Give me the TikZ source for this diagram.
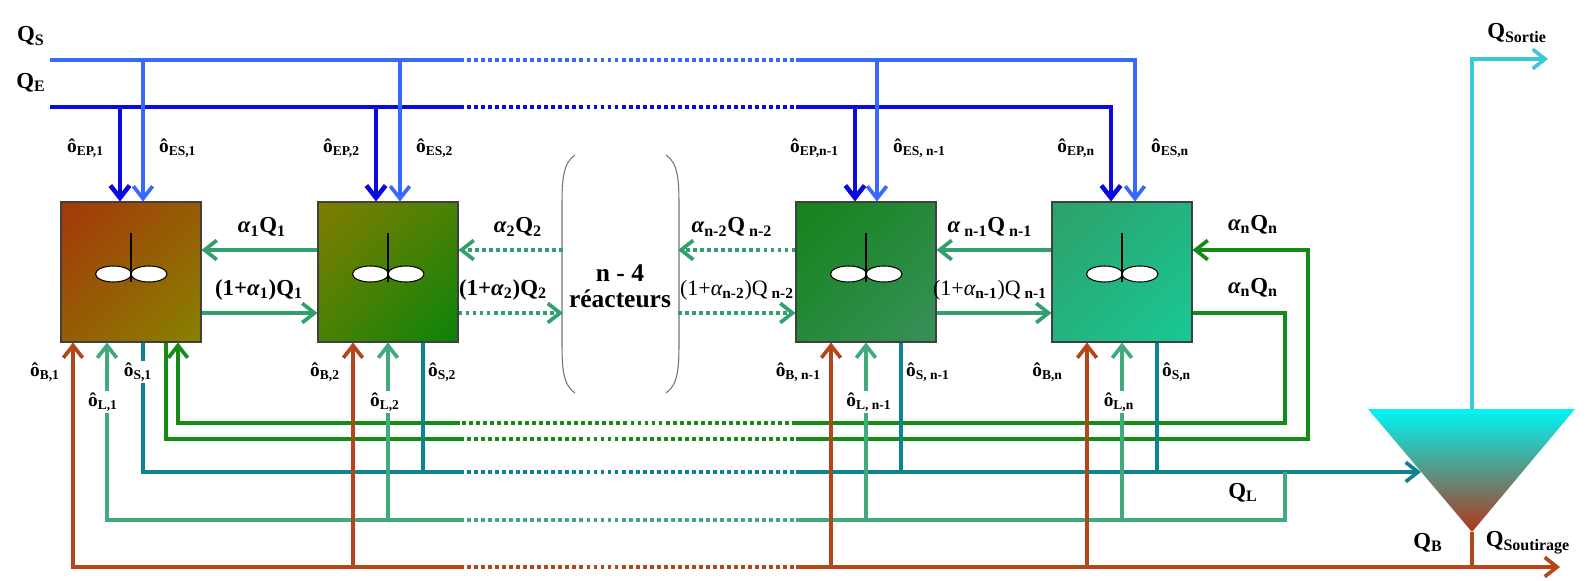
\documentclass[tikz,border=0pt]{standalone}
\usepackage{fontspec}
\setmainfont{Liberation Serif}
\usetikzlibrary{arrows.meta,positioning,calc,shadings}

\definecolor{qsblue}{RGB}{55,105,255}
\definecolor{qeblue}{RGB}{10,10,225}
\definecolor{recyc}{RGB}{50,160,110}
\definecolor{loopgreen}{RGB}{20,140,20}
\definecolor{steal}{RGB}{15,130,145}
\definecolor{lgreen}{RGB}{65,170,125}
\definecolor{bbrown}{RGB}{180,70,25}
\definecolor{sortie}{RGB}{60,200,215}
\definecolor{ra}{RGB}{165,55,10}
\definecolor{rb}{RGB}{135,130,0}
\definecolor{rc}{RGB}{10,130,10}
\definecolor{rd}{RGB}{20,130,25}
\definecolor{re}{RGB}{55,145,90}
\definecolor{rf}{RGB}{45,160,105}
\definecolor{rg}{RGB}{25,200,150}
\definecolor{settop}{RGB}{0,245,245}
\definecolor{setmid}{RGB}{95,195,200}
\definecolor{setbot}{RGB}{175,55,25}

\tikzset{
  flow/.style={line width=2.1pt},
  tip/.style={-{Straight Barb[length=7pt,width=11pt]}},
  dotline/.style={dash pattern=on 2.2pt off 1.8pt},
  reactor/.style={draw=black!75,line width=0.6pt,minimum width=2.8cm,minimum height=2.8cm,inner sep=0pt},
  lbl/.style={font=\bfseries\fontsize{13}{15}\selectfont,inner sep=0pt},
  thinlbl/.style={font=\fontsize{12.5}{15}\selectfont,inner sep=0pt},
  phi/.style={font=\bfseries\fontsize{11}{13}\selectfont,inner sep=1pt,fill=white},
  mixer/.pic={
    \draw[line width=0.6pt,fill=white] (-0.35cm,-0.04cm) ellipse (0.36cm and 0.16cm);
    \draw[line width=0.6pt,fill=white] (0.36cm,-0.04cm) ellipse (0.36cm and 0.16cm);
    \draw[line width=0.6pt] (0cm,0.78cm) -- (0cm,-0.2cm);
  }
}

\begin{document}
\begin{tikzpicture}[x=0.02cm,y=-0.02cm]
\useasboundingbox (0,0) rectangle (1586,581);

\node[reactor,upper left=ra,lower right=rb,upper right=ra!50!rb,lower left=ra!50!rb] (r1) at (131,272) {};
\node[reactor,upper left=rb!95!black,lower right=rc,upper right=rb!50!rc,lower left=rb!50!rc] (r2) at (388,272) {};
\node[reactor,upper left=rd,lower right=re,upper right=rd!50!re,lower left=rd!50!re] (r3) at (866,272) {};
\node[reactor,upper left=rf,lower right=rg,upper right=rf!50!rg,lower left=rf!50!rg] (r4) at (1122,272) {};
\pic at (r1) {mixer};
\pic at (r2) {mixer};
\pic at (r3) {mixer};
\pic at (r4) {mixer};

\coordinate (qsa) at (50,60);
\coordinate (qsb) at (460,60);
\coordinate (qsc) at (796,60);
\coordinate (qsd) at (1135,60);
\coordinate (qea) at (50,107);
\coordinate (qeb) at (460,107);
\coordinate (qec) at (796,107);
\coordinate (qed) at (1111,107);
\coordinate (es1) at (143,60);
\coordinate (es2) at (400,60);
\coordinate (es3) at (877,60);
\coordinate (ep1) at (120,107);
\coordinate (ep2) at (376,107);
\coordinate (ep3) at (855,107);

\draw[flow,qeblue,line width=2.6pt] (qea) -- (qeb);
\draw[flow,qeblue,line width=2.6pt,dotline] (qeb) -- (qec);
\draw[flow,qeblue,line width=2.6pt,tip] (qec) -- (qed) -- (qed |- r4.north);
\draw[flow,qeblue,line width=2.6pt,tip] (ep1) -- (ep1 |- r1.north);
\draw[flow,qeblue,line width=2.6pt,tip] (ep2) -- (ep2 |- r2.north);
\draw[flow,qeblue,line width=2.6pt,tip] (ep3) -- (ep3 |- r3.north);
\draw[flow,qsblue] (qsa) -- (qsb);
\draw[flow,qsblue,dotline] (qsb) -- (qsc);
\draw[flow,qsblue,tip] (qsc) -- (qsd) -- (qsd |- r4.north);
\draw[flow,qsblue,tip] (es1) -- (es1 |- r1.north);
\draw[flow,qsblue,tip] (es2) -- (es2 |- r2.north);
\draw[flow,qsblue,tip] (es3) -- (es3 |- r3.north);

\coordinate (pl) at (563,272);
\coordinate (pr) at (678,272);
\draw[line width=0.6pt,black!55] (575,155) .. controls (563,163) and (562,180) .. (562,205) -- (562,343) .. controls (562,368) and (563,385) .. (575,393);
\draw[line width=0.6pt,black!55] (666,155) .. controls (678,163) and (679,180) .. (679,205) -- (679,343) .. controls (679,368) and (678,385) .. (666,393);
\node[lbl,font=\bfseries\fontsize{14.5}{15}\selectfont,align=center] (nred) at (620,286) {n - 4\\réacteurs};

\draw[flow,recyc,tip] ($(r2.west)+(0,-22)$) -- ($(r1.east)+(0,-22)$);
\draw[flow,recyc,tip] ($(r1.east)+(0,41)$) -- ($(r2.west)+(0,41)$);
\draw[flow,recyc,dotline,tip] ($(pl)+(0,-22)$) -- ($(r2.east)+(0,-22)$);
\draw[flow,recyc,dotline,tip] ($(r2.east)+(0,41)$) -- ($(pl)+(0,41)$);
\draw[flow,recyc,dotline,tip] ($(r3.west)+(0,-22)$) -- ($(pr)+(0,-22)$);
\draw[flow,recyc,dotline,tip] ($(pr)+(0,41)$) -- ($(r3.west)+(0,41)$);
\draw[flow,recyc,tip] ($(r4.west)+(0,-22)$) -- ($(r3.east)+(0,-22)$);
\draw[flow,recyc,tip] ($(r3.east)+(0,41)$) -- ($(r4.west)+(0,41)$);

\coordinate (ga) at (166,439);
\coordinate (gb) at (460,439);
\coordinate (gc) at (796,439);
\coordinate (gd) at (1308,439);
\coordinate (ge) at (1308,250);
\coordinate (ha) at (178,423);
\coordinate (hb) at (460,423);
\coordinate (hc) at (796,423);
\coordinate (hd) at (1285,423);
\coordinate (he) at (1285,313);
\draw[flow,loopgreen] (ga |- r1.south) -- (ga) -- (gb);
\draw[flow,loopgreen,dotline] (gb) -- (gc);
\draw[flow,loopgreen,tip] (gc) -- (gd) -- (ge) -- (ge -| r4.east);
\draw[flow,loopgreen] (he -| r4.east) -- (he) -- (hd) -- (hc);
\draw[flow,loopgreen,dotline] (hc) -- (hb);
\draw[flow,loopgreen,tip] (hb) -- (ha) -- (ha |- r1.south);

\coordinate (setl) at (1368,409);
\coordinate (setr) at (1575,409);
\coordinate (setb) at (1472,532);
\coordinate (sa) at (1472,409);
\coordinate (sb) at (1472,59);
\coordinate (sc) at (1548,59);
\shade[top color=settop,middle color=setmid,bottom color=setbot] (setl) -- (setr) -- (setb) -- cycle;
\draw[flow,sortie,tip] (sa) -- (sb) -- (sc);

\coordinate (ta) at (143,472);
\coordinate (tb) at (460,472);
\coordinate (tc) at (796,472);
\coordinate (td) at (1421,472);
\coordinate (t2) at (423,472);
\coordinate (t3) at (901,472);
\coordinate (t4) at (1157,472);
\draw[flow,steal] (ta |- r1.south) -- (ta) -- (tb);
\draw[flow,steal,dotline] (tb) -- (tc);
\draw[flow,steal,tip] (tc) -- (td);
\draw[flow,steal] (t2 |- r2.south) -- (t2);
\draw[flow,steal] (t3 |- r3.south) -- (t3);
\draw[flow,steal] (t4 |- r4.south) -- (t4);

\coordinate (la) at (107,520);
\coordinate (lb) at (460,520);
\coordinate (lc) at (796,520);
\coordinate (ld) at (1285,520);
\coordinate (le) at (1285,472);
\coordinate (l2) at (388,520);
\coordinate (l3) at (866,520);
\coordinate (l4) at (1122,520);
\draw[flow,lgreen,tip] (lb) -- (la) -- (la |- r1.south);
\draw[flow,lgreen,dotline] (lb) -- (lc);
\draw[flow,lgreen] (lc) -- (ld) -- (le);
\draw[flow,lgreen,tip] (l2) -- (l2 |- r2.south);
\draw[flow,lgreen,tip] (l3) -- (l3 |- r3.south);
\draw[flow,lgreen,tip] (l4) -- (l4 |- r4.south);

\coordinate (ba) at (73,567);
\coordinate (bb) at (460,567);
\coordinate (bc) at (796,567);
\coordinate (bd) at (1472,567);
\coordinate (be) at (1560,567);
\coordinate (b2) at (353,567);
\coordinate (b3) at (831,567);
\coordinate (b4) at (1087,567);
\draw[flow,bbrown,tip] (bb) -- (ba) -- (ba |- r1.south);
\draw[flow,bbrown,dotline] (bb) -- (bc);
\draw[flow,bbrown,tip] (bc) -- (be);
\draw[flow,bbrown] (setb) -- (bd);
\draw[flow,bbrown,tip] (b2) -- (b2 |- r2.south);
\draw[flow,bbrown,tip] (b3) -- (b3 |- r3.south);
\draw[flow,bbrown,tip] (b4) -- (b4 |- r4.south);

\node[lbl] (qsl) at (31,36) {Q\textsubscript{S}};
\node[lbl] (qel) at (31,83) {Q\textsubscript{E}};
\node[lbl] (qsort) at (1517,33) {Q\textsubscript{Sortie}};
\node[lbl] (qll) at (1243,493) {Q\textsubscript{L}};
\node[lbl] (qbl) at (1428,543) {Q\textsubscript{B}};
\node[lbl] (qsout) at (1528,543) {Q\textsubscript{Soutirage}};

\node[phi,anchor=east] (lep1) at (106,148) {ô\textsubscript{EP,1}};
\node[phi,anchor=west] (les1) at (157,148) {ô\textsubscript{ES,1}};
\node[phi,anchor=east] (lep2) at (362,148) {ô\textsubscript{EP,2}};
\node[phi,anchor=west] (les2) at (414,148) {ô\textsubscript{ES,2}};
\node[phi,anchor=east] (lep3) at (841,148) {ô\textsubscript{EP,n-1}};
\node[phi,anchor=west] (les3) at (891,148) {ô\textsubscript{ES, n-1}};
\node[phi,anchor=east] (lep4) at (1097,148) {ô\textsubscript{EP,n}};
\node[phi,anchor=west] (les4) at (1149,148) {ô\textsubscript{ES,n}};

\node[phi,anchor=east] (lb1) at (62,372) {ô\textsubscript{B,1}};
\node[phi] (ls1) at (138,372) {ô\textsubscript{S,1}};
\node[phi] (ll1) at (103,402) {ô\textsubscript{L,1}};
\node[phi,anchor=east] (lb2) at (342,372) {ô\textsubscript{B,2}};
\node[phi] (ll2) at (385,402) {ô\textsubscript{L,2}};
\node[phi,anchor=west] (ls2) at (426,372) {ô\textsubscript{S,2}};
\node[phi,anchor=east] (lb3) at (823,372) {ô\textsubscript{B, n-1}};
\node[phi] (ll3) at (869,402) {ô\textsubscript{L, n-1}};
\node[phi,anchor=west] (ls3) at (904,372) {ô\textsubscript{S, n-1}};
\node[phi,anchor=east] (lb4) at (1065,372) {ô\textsubscript{B,n}};
\node[phi] (ll4) at (1119,402) {ô\textsubscript{L,n}};
\node[phi,anchor=west] (ls4) at (1160,372) {ô\textsubscript{S,n}};

\node[lbl] (al1) at (262,227) {{\itshape α}\textsubscript{1}Q\textsubscript{1}};
\node[lbl] (bl1) at (259,290) {(1+{\itshape α}\textsubscript{1})Q\textsubscript{1}};
\node[lbl] (al2) at (518,227) {{\itshape α}\textsubscript{2}Q\textsubscript{2}};
\node[lbl] (bl2) at (503,290) {(1+{\itshape α}\textsubscript{2})Q\textsubscript{2}};
\node[lbl] (al3) at (732,227) {{\itshape α}\textsubscript{n-2}Q\textsubscript{ n-2}};
\node[thinlbl] (bl3) at (737,290) {(1+{\itshape α}\textsubscript{\bfseries n-2})Q\textsubscript{\bfseries\ n-2}};
\node[lbl] (al4) at (990,227) {{\itshape α}\textsubscript{ n-1}Q\textsubscript{ n-1}};
\node[thinlbl] (bl4) at (990,290) {(1+{\itshape α}\textsubscript{\bfseries n-1})Q\textsubscript{\bfseries\ n-1}};
\node[lbl] (al5) at (1253,225) {{\itshape α}\textsubscript{n}Q\textsubscript{n}};
\node[lbl] (bl5) at (1253,288) {{\itshape α}\textsubscript{n}Q\textsubscript{n}};
\end{tikzpicture}
\end{document}
